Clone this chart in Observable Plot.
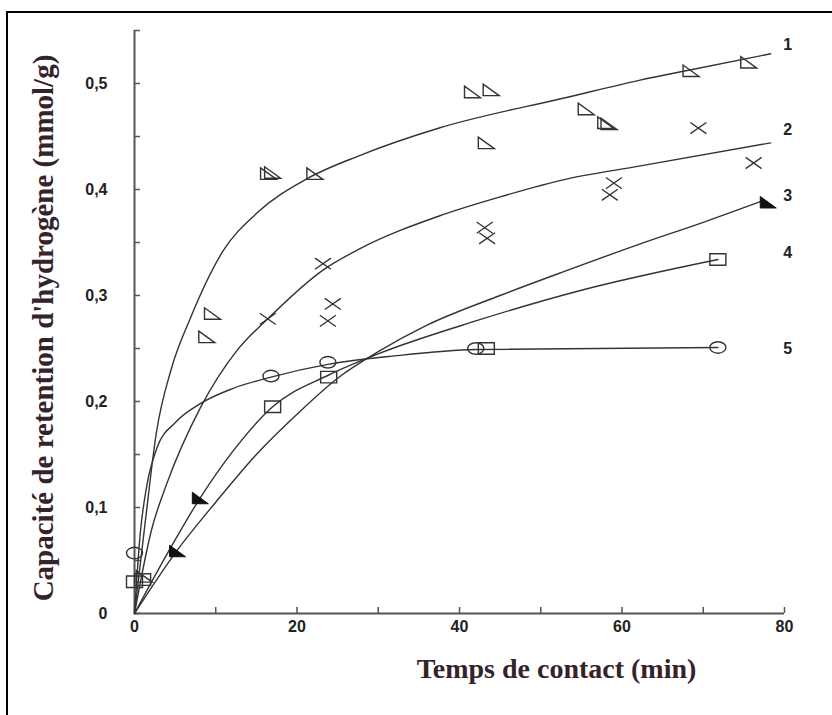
<!DOCTYPE html>
<html>
<head>
<meta charset="utf-8">
<script src="https://cdn.jsdelivr.net/npm/d3@7"></script>
<script src="https://cdn.jsdelivr.net/npm/@observablehq/plot@0.6"></script>
<style>
  html, body { margin: 0; padding: 0; background: #fff; overflow: hidden; }
  #wrap { position: relative; width: 832px; height: 715px; }
  #frame { position: absolute; left: 6px; top: 11px; width: 900px; height: 800px; border: 2px solid #000; box-sizing: border-box; pointer-events: none; }
  #chart { position: absolute; left: 0; top: 0; }
</style>
</head>
<body>
<div id="wrap"><div id="chart"></div><div id="frame"></div></div>
<script>
// ---- Data ----
// Fitted curves
const curve1X = [0, 1.3, 2.7, 4.5, 6.9, 10.9, 15.1, 21.2, 27.7, 37.5, 53.3, 62.1, 68.5, 78.3];
const curve1Y = [0, 0.085, 0.171, 0.23, 0.279, 0.342, 0.378, 0.41, 0.432, 0.458, 0.487, 0.503, 0.513, 0.528];
const curve2X = [0, 2.1, 4, 8.1, 12.6, 16.4, 23.2, 27.7, 37.5, 45, 53.3, 62.1, 78.3];
const curve2Y = [0, 0.079, 0.123, 0.194, 0.248, 0.278, 0.324, 0.344, 0.375, 0.393, 0.41, 0.422, 0.444];
const curve3X = [0, 5, 10, 15, 20, 25, 30, 36, 45, 53, 62, 70, 77.2];
const curve3Y = [0, 0.057, 0.105, 0.15, 0.188, 0.222, 0.247, 0.272, 0.300, 0.323, 0.348, 0.369, 0.389];
const curve4X = [0, 4, 8, 12, 17, 23.9, 30, 42, 55, 71.8];
const curve4Y = [0, 0.056, 0.108, 0.152, 0.195, 0.225, 0.245, 0.276, 0.305, 0.334];
const curve5X = [0, 0.7, 1.5, 2.8, 5, 8.1, 12, 16.8, 23.8, 32, 42, 71.8];
const curve5Y = [0, 0.075, 0.12, 0.157, 0.18, 0.198, 0.212, 0.223, 0.235, 0.243, 0.249, 0.251];

// Measured points
const pts1X = [1.2, 8.9, 9.6, 16.5, 17.0, 22.2, 41.6, 43.9, 43.3, 55.6, 58.0, 58.4, 68.5, 75.6];
const pts1Y = [0.035, 0.261, 0.283, 0.415, 0.416, 0.415, 0.492, 0.494, 0.444, 0.476, 0.463, 0.462, 0.512, 0.520];
const pts2X = [16.4, 23.2, 24.4, 23.8, 43.1, 43.4, 59.0, 58.5, 69.4, 76.2];
const pts2Y = [0.278, 0.330, 0.292, 0.276, 0.364, 0.354, 0.406, 0.395, 0.458, 0.425];
const pts3X = [5.3, 8.1, 78.0];
const pts3Y = [0.059, 0.109, 0.388];
const pts4X = [0, 1, 17.0, 23.9, 43.3, 71.8];
const pts4Y = [0.030, 0.032, 0.195, 0.223, 0.250, 0.334];
const pts5X = [0, 16.8, 23.8, 42.0, 71.8];
const pts5Y = [0.057, 0.224, 0.237, 0.250, 0.251];

// Series labels
const seriesNames = ["1", "2", "3", "4", "5"];
const seriesLabelY = [0.536, 0.456, 0.394, 0.340, 0.250];
const seriesLabelX = 80.4;

// Axes
const xMinorTicks = [0, 10, 20, 30, 40, 50, 60, 70, 80];
const xLabelTicks = [0, 20, 40, 60, 80];
const yMinorTicks = [0, 0.05, 0.1, 0.15, 0.2, 0.25, 0.3, 0.35, 0.4, 0.45, 0.5, 0.55];
const yLabelTicks = [0, 0.1, 0.2, 0.3, 0.4, 0.5];
const yTickLabels = ["0", "0,1", "0,2", "0,3", "0,4", "0,5"];
const xTitle = "Temps de contact (min)";
const yTitle = "Capacité de retention d'hydrogène (mmol/g)";

// ---- Build ----
const zip = (xs, ys) => xs.map((x, i) => ({x, y: ys[i]}));
const curves = [curve1X, curve2X, curve3X, curve4X, curve5X].map((xs, k) =>
  zip(xs, [curve1Y, curve2Y, curve3Y, curve4Y, curve5Y][k]));

const rightTri = {draw(ctx, size) { const r = Math.sqrt(size / Math.PI), w = r, h = r * 0.72;
  ctx.moveTo(-w, -h); ctx.lineTo(-w, h); ctx.lineTo(w, h); ctx.closePath(); }};
const cross = {draw(ctx, size) { const r = Math.sqrt(size / Math.PI), w = r, h = r * 0.7;
  ctx.moveTo(-w, -h); ctx.lineTo(w, h); ctx.moveTo(-w, h); ctx.lineTo(w, -h); }};
const rect = {draw(ctx, size) { const r = Math.sqrt(size / Math.PI), w = r, h = r * 0.72;
  ctx.moveTo(-w, -h); ctx.lineTo(w, -h); ctx.lineTo(w, h); ctx.lineTo(-w, h); ctx.closePath(); }};
const ellipse = {draw(ctx, size) { const r = Math.sqrt(size / Math.PI), w = r, h = r * 0.72, k = 0.5523;
  ctx.moveTo(w, 0);
  ctx.bezierCurveTo(w, h * k, w * k, h, 0, h);
  ctx.bezierCurveTo(-w * k, h, -w, h * k, -w, 0);
  ctx.bezierCurveTo(-w, -h * k, -w * k, -h, 0, -h);
  ctx.bezierCurveTo(w * k, -h, w, -h * k, w, 0);
  ctx.closePath(); }};

const ink = "#333";
const titleColor = "#35232a";

const chart = Plot.plot({
  width: 832, height: 715,
  marginLeft: 134, marginRight: 48, marginTop: 30, marginBottom: 102,
  x: {domain: [0, 80]},
  y: {domain: [0, 0.55]},
  style: {fontFamily: "'Liberation Sans', Arial, sans-serif", fontSize: "16px", fontWeight: "bold", color: "#222", background: "transparent", overflow: "visible"},
  marks: [
    Plot.ruleX([0], {stroke: "#555", strokeWidth: 2}),
    Plot.ruleY([0], {stroke: "#555", strokeWidth: 2}),
    Plot.axisY({ticks: yMinorTicks, tickSize: -6, text: null, label: null, stroke: "#555", strokeWidth: 1.5}),
    Plot.axisY({ticks: yLabelTicks, tickSize: 0, tickPadding: 27, tickFormat: d => yTickLabels[yLabelTicks.indexOf(d)], label: null}),
    Plot.axisX({ticks: xMinorTicks, tickSize: -6, text: null, label: null, stroke: "#555", strokeWidth: 1.5}),
    Plot.axisX({ticks: xLabelTicks, tickSize: 0, tickPadding: 7, tickFormat: d => String(d), label: null}),
    ...curves.map(c => Plot.line(c, {x: "x", y: "y", curve: "monotone-x", stroke: ink, strokeWidth: 1.4})),
    Plot.dot(zip(pts1X, pts1Y), {x: "x", y: "y", symbol: rightTri, r: 8, stroke: ink, strokeWidth: 1.4, fill: "none"}),
    Plot.dot(zip(pts2X, pts2Y), {x: "x", y: "y", symbol: cross, r: 8, stroke: ink, strokeWidth: 1.3, fill: "none"}),
    Plot.dot(zip(pts3X, pts3Y), {x: "x", y: "y", symbol: rightTri, r: 8, stroke: "#111", strokeWidth: 1, fill: "#111"}),
    Plot.dot(zip(pts4X, pts4Y), {x: "x", y: "y", symbol: rect, r: 8, stroke: ink, strokeWidth: 1.4, fill: "none"}),
    Plot.dot(zip(pts5X, pts5Y), {x: "x", y: "y", symbol: ellipse, r: 8, stroke: ink, strokeWidth: 1.4, fill: "none"}),
    Plot.text(seriesNames, {x: () => seriesLabelX, y: (d, i) => seriesLabelY[i], text: d => d, fontSize: 16, fontWeight: "bold", fill: "#222"}),
    Plot.text([xTitle], {frameAnchor: "bottom", dx: 97, dy: 64, text: d => d, fontFamily: "'Liberation Serif', 'Times New Roman', serif", fontSize: 28, fontWeight: "bold", fill: titleColor}),
    Plot.text([yTitle], {frameAnchor: "left", textAnchor: "middle", rotate: -90, dx: -91, dy: 6, text: d => d, fontFamily: "'Liberation Serif', 'Times New Roman', serif", fontSize: 29, fontWeight: "bold", fill: titleColor})
  ]
});
document.getElementById("chart").appendChild(chart);
</script>
</body>
</html>
